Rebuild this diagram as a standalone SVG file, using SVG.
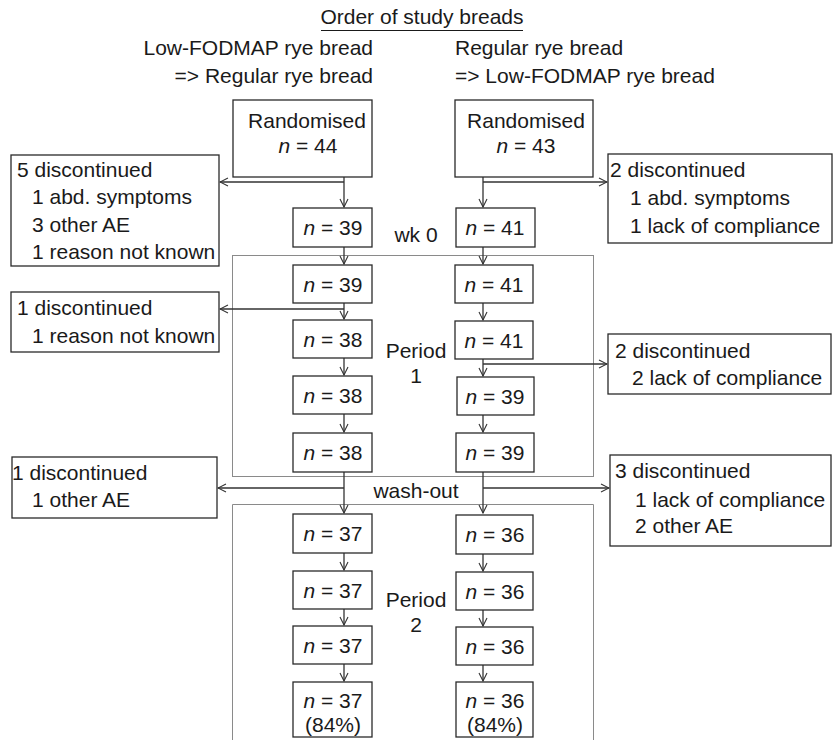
<svg xmlns="http://www.w3.org/2000/svg" width="835" height="740" viewBox="0 0 835 740">
<defs>
<style>
text{font-family:"Liberation Sans",Arial,sans-serif;font-size:21px;fill:#1a1a1a}
.box{fill:#fff;stroke:#2a2a2a;stroke-width:1.3}
.period{fill:none;stroke:#8a8a8a;stroke-width:1}
.c{fill:none;stroke:#333;stroke-width:1.3}
.m{text-anchor:middle}
.e{text-anchor:end}
.i{font-style:italic}
</style>
<marker id="ah" viewBox="0 0 10 10" refX="9" refY="5" markerWidth="10" markerHeight="10" markerUnits="userSpaceOnUse" orient="auto">
<path d="M1,1 L9,5 L1,9" fill="none" stroke="#333" stroke-width="1.1"/>
</marker>
</defs>
<rect width="835" height="740" fill="#fff"/>

<g id="header">
<text x="422" y="24" class="m">Order of study breads</text>
<line x1="321" y1="30.5" x2="523" y2="30.5" stroke="#1a1a1a" stroke-width="1.2"/>
<text x="373" y="55" class="e">Low-FODMAP rye bread</text>
<text x="373" y="83" class="e">=&gt; Regular rye bread</text>
<text x="455" y="55">Regular rye bread</text>
<text x="455" y="83">=&gt; Low-FODMAP rye bread</text>
</g>

<g id="period1">
<rect class="period" x="232.5" y="255.5" width="361" height="221"/>
<text x="416" y="358" class="m">Period</text>
<text x="416" y="383" class="m">1</text>
</g>
<g id="period2">
<path class="period" d="M232.5,742 V504.5 H593.5 V742"/>
<text x="416" y="607" class="m">Period</text>
<text x="416" y="632" class="m">2</text>
</g>
<g id="labels">
<text x="416" y="242" class="m">wk 0</text>
<text x="416" y="498" class="m">wash-out</text>
</g>

<g id="connectors">
<path class="c" d="M344,177 V207" marker-end="url(#ah)"/>
<path class="c" d="M344,182 H220" marker-end="url(#ah)"/>
<path class="c" d="M344,247 V264" marker-end="url(#ah)"/>
<path class="c" d="M344,303 V319" marker-end="url(#ah)"/>
<path class="c" d="M344,309 H220" marker-end="url(#ah)"/>
<path class="c" d="M344,358 V375" marker-end="url(#ah)"/>
<path class="c" d="M344,414 V432" marker-end="url(#ah)"/>
<path class="c" d="M344,472 V513" marker-end="url(#ah)"/>
<path class="c" d="M344,488 H218" marker-end="url(#ah)"/>
<path class="c" d="M344,553 V570" marker-end="url(#ah)"/>
<path class="c" d="M344,609 V625" marker-end="url(#ah)"/>
<path class="c" d="M344,664 V681" marker-end="url(#ah)"/>

<path class="c" d="M483,177 V207" marker-end="url(#ah)"/>
<path class="c" d="M483,182 H607" marker-end="url(#ah)"/>
<path class="c" d="M483,247 V264" marker-end="url(#ah)"/>
<path class="c" d="M483,303 V320" marker-end="url(#ah)"/>
<path class="c" d="M483,359 V376" marker-end="url(#ah)"/>
<path class="c" d="M483,364 H607" marker-end="url(#ah)"/>
<path class="c" d="M483,415 V432" marker-end="url(#ah)"/>
<path class="c" d="M483,472 V513" marker-end="url(#ah)"/>
<path class="c" d="M483,488 H609" marker-end="url(#ah)"/>
<path class="c" d="M483,554 V571" marker-end="url(#ah)"/>
<path class="c" d="M483,610 V626" marker-end="url(#ah)"/>
<path class="c" d="M483,665 V681" marker-end="url(#ah)"/>
</g>

<g id="rand-left"><rect class="box" x="233" y="100" width="139" height="77"/>
<text x="307" y="128" class="m">Randomised</text>
<text x="308" y="153" class="m"><tspan class="i">n</tspan> = 44</text></g>
<g id="rand-right"><rect class="box" x="455" y="100" width="138" height="77"/>
<text x="526" y="128" class="m">Randomised</text>
<text x="526" y="153" class="m"><tspan class="i">n</tspan> = 43</text></g>

<g id="L1"><rect class="box" x="293" y="208" width="79" height="39"/><text x="333" y="235" class="m"><tspan class="i">n</tspan> = 39</text></g>
<g id="L2"><rect class="box" x="293" y="265" width="79" height="38"/><text x="333" y="292" class="m"><tspan class="i">n</tspan> = 39</text></g>
<g id="L3"><rect class="box" x="293" y="320" width="79" height="38"/><text x="333" y="347" class="m"><tspan class="i">n</tspan> = 38</text></g>
<g id="L4"><rect class="box" x="293" y="376" width="79" height="38"/><text x="333" y="403" class="m"><tspan class="i">n</tspan> = 38</text></g>
<g id="L5"><rect class="box" x="293" y="433" width="79" height="39"/><text x="333" y="460" class="m"><tspan class="i">n</tspan> = 38</text></g>
<g id="L6"><rect class="box" x="293" y="514" width="79" height="39"/><text x="333" y="541" class="m"><tspan class="i">n</tspan> = 37</text></g>
<g id="L7"><rect class="box" x="293" y="571" width="79" height="38"/><text x="333" y="598" class="m"><tspan class="i">n</tspan> = 37</text></g>
<g id="L8"><rect class="box" x="293" y="626" width="79" height="38"/><text x="333" y="653" class="m"><tspan class="i">n</tspan> = 37</text></g>
<g id="L9"><rect class="box" x="293" y="682" width="79" height="55"/><text x="333" y="708" class="m"><tspan class="i">n</tspan> = 37</text><text x="333" y="732" class="m">(84%)</text></g>

<g id="R1"><rect class="box" x="456" y="208" width="79" height="39"/><text x="495" y="235" class="m"><tspan class="i">n</tspan> = 41</text></g>
<g id="R2"><rect class="box" x="455" y="265" width="78" height="38"/><text x="494" y="292" class="m"><tspan class="i">n</tspan> = 41</text></g>
<g id="R3"><rect class="box" x="455" y="321" width="78" height="38"/><text x="494" y="348" class="m"><tspan class="i">n</tspan> = 41</text></g>
<g id="R4"><rect class="box" x="457" y="377" width="77" height="38"/><text x="495" y="404" class="m"><tspan class="i">n</tspan> = 39</text></g>
<g id="R5"><rect class="box" x="456" y="433" width="78" height="39"/><text x="495" y="460" class="m"><tspan class="i">n</tspan> = 39</text></g>
<g id="R6"><rect class="box" x="456" y="515" width="77" height="39"/><text x="495" y="542" class="m"><tspan class="i">n</tspan> = 36</text></g>
<g id="R7"><rect class="box" x="456" y="572" width="77" height="38"/><text x="495" y="599" class="m"><tspan class="i">n</tspan> = 36</text></g>
<g id="R8"><rect class="box" x="456" y="627" width="77" height="38"/><text x="495" y="654" class="m"><tspan class="i">n</tspan> = 36</text></g>
<g id="R9"><rect class="box" x="456" y="682" width="77" height="55"/><text x="495" y="708" class="m"><tspan class="i">n</tspan> = 36</text><text x="495" y="732" class="m">(84%)</text></g>

<g id="disc-L1"><rect class="box" x="11" y="155" width="208" height="111"/>
<text x="17" y="177">5 discontinued</text>
<text x="32" y="204">1 abd. symptoms</text>
<text x="32" y="232">3 other AE</text>
<text x="32" y="259">1 reason not known</text></g>
<g id="disc-L2"><rect class="box" x="11" y="292" width="208" height="60"/>
<text x="17" y="315">1 discontinued</text>
<text x="32" y="343">1 reason not known</text></g>
<g id="disc-L3"><rect class="box" x="12" y="457" width="205" height="61"/>
<text x="12" y="480">1 discontinued</text>
<text x="32" y="507">1 other AE</text></g>
<g id="disc-R1"><rect class="box" x="608" y="154" width="224" height="89"/>
<text x="610" y="177">2 discontinued</text>
<text x="630" y="205">1 abd. symptoms</text>
<text x="630" y="233">1 lack of compliance</text></g>
<g id="disc-R2"><rect class="box" x="608" y="334" width="223" height="60"/>
<text x="615" y="358">2 discontinued</text>
<text x="632" y="385">2 lack of compliance</text></g>
<g id="disc-R3"><rect class="box" x="610" y="455" width="221" height="91"/>
<text x="615" y="478">3 discontinued</text>
<text x="635" y="507">1 lack of compliance</text>
<text x="635" y="533">2 other AE</text></g>
</svg>
